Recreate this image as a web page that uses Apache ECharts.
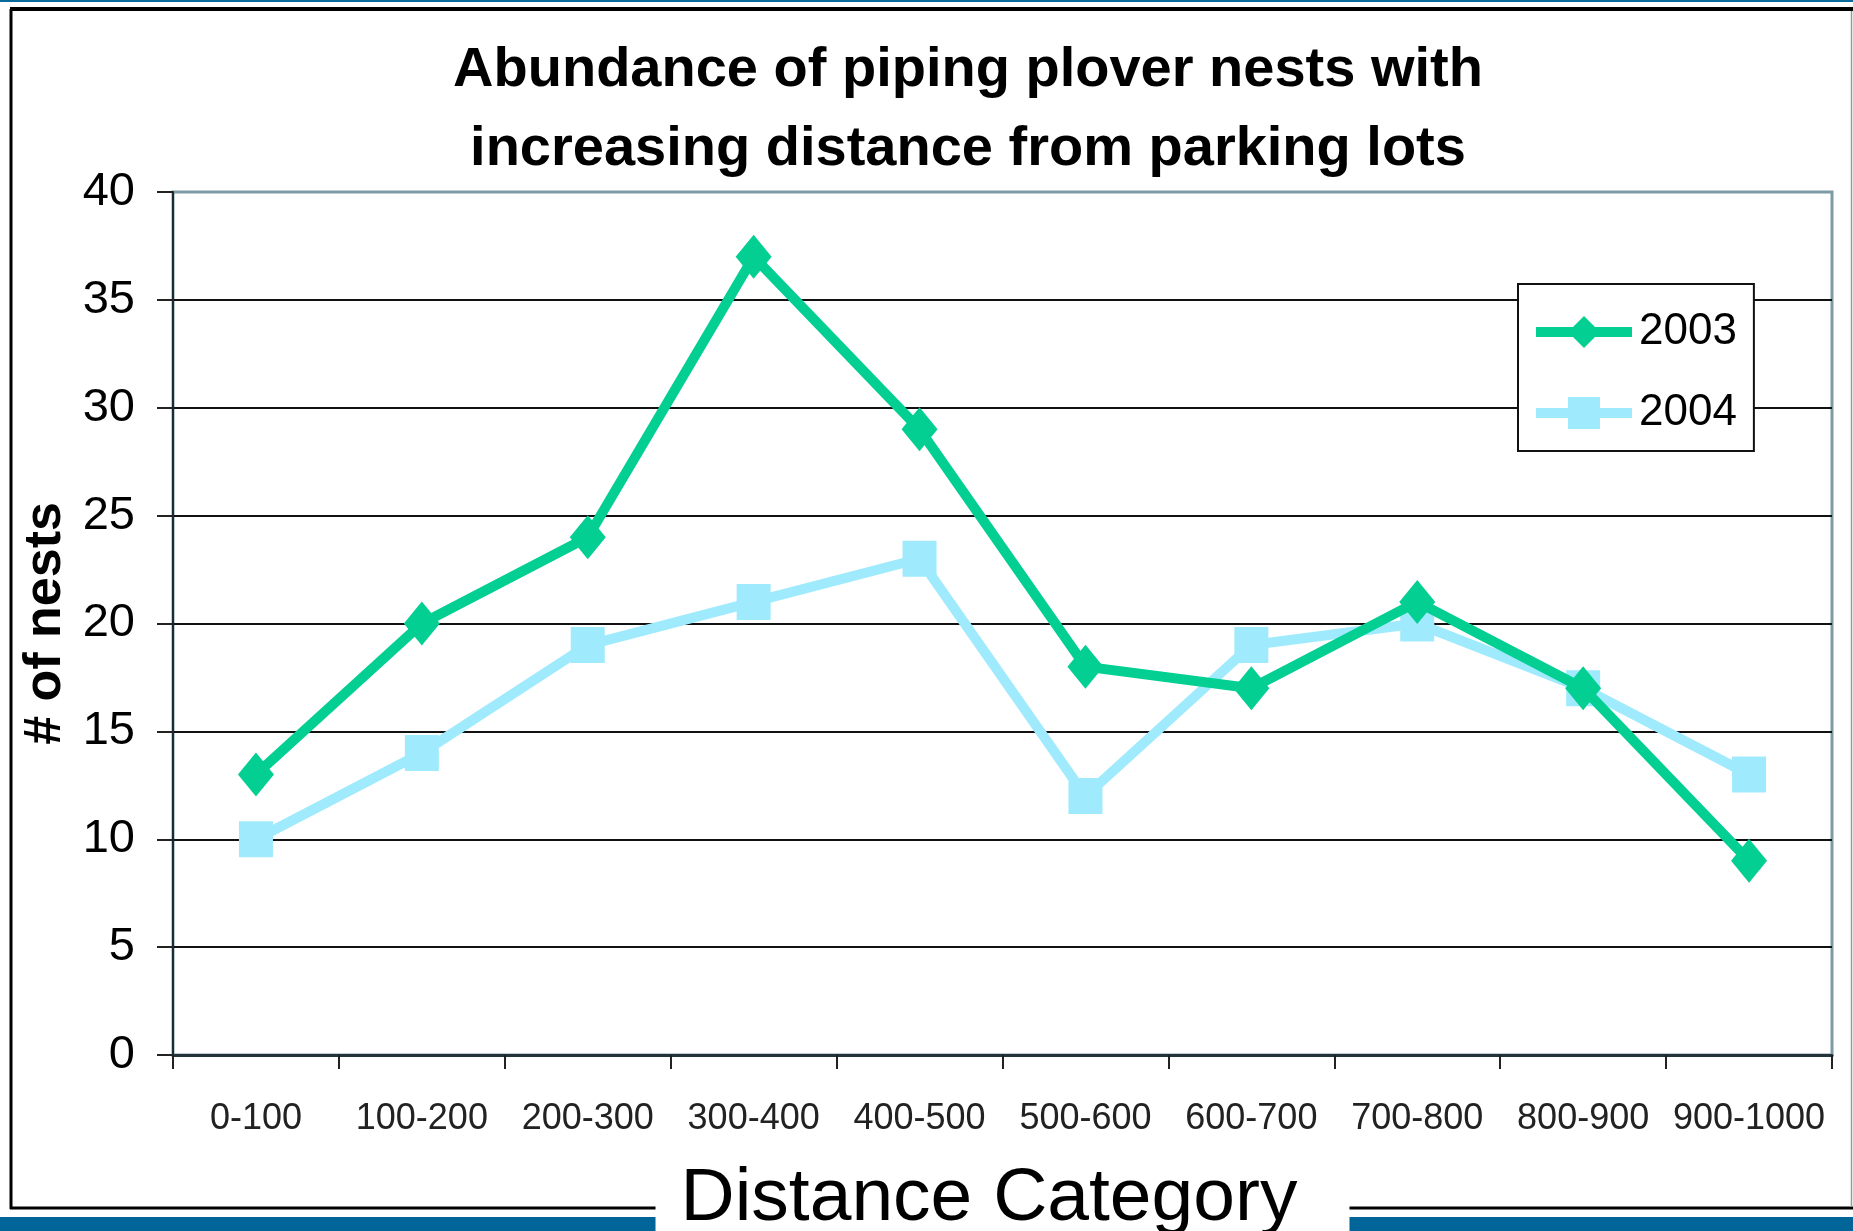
<!DOCTYPE html>
<html>
<head>
<meta charset="utf-8">
<title>Piping plover nests by distance from parking lots</title>
<script src="https://cdn.jsdelivr.net/npm/echarts@6/dist/echarts.min.js"></script>
<style>
  html, body { margin: 0; padding: 0; background: #fff; }
  #chart { width: 1853px; height: 1231px; }
</style>
</head>
<body>
<div id="chart"></div>
<script>
// Distance bands (m) from the parking lots
const categories = ['0-100', '100-200', '200-300', '300-400', '400-500',
                    '500-600', '600-700', '700-800', '800-900', '900-1000'];
// Number of nests per band, by season
const nests2003 = [13, 20, 24, 37, 29, 18, 17, 21, 17, 9];
const nests2004 = [10, 14, 19, 21, 23, 12, 19, 20, 17, 13];
// Value axis ticks
const yMin = 0, yMax = 40, yStep = 5;

const FONT = "'Liberation Sans', Arial, Helvetica, sans-serif";
const GREEN = '#03CF92';
const CYAN = '#9FEBFD';

const chart = echarts.init(document.getElementById('chart'), null, { renderer: 'canvas' });

const option = {
  backgroundColor: '#ffffff',
  animation: false,
  title: {
    text: 'Abundance of piping plover nests with\nincreasing distance from parking lots',
    left: 968,
    top: 31,
    textAlign: 'center',
    padding: 0,
    textStyle: {
      fontFamily: FONT,
      fontSize: 56,
      fontWeight: 'bold',
      color: '#000',
      lineHeight: 79
    }
  },
  legend: {
    orient: 'vertical',
    left: 1518,
    top: 284,
    padding: [26, 17, 16, 13],
    itemGap: 37,
    itemWidth: 96,
    itemHeight: 40,
    borderColor: '#111',
    borderWidth: 2,
    borderRadius: 0,
    backgroundColor: '#ffffff',
    z: 10,
    lineStyle: { width: 10 },
    textStyle: { fontFamily: FONT, fontSize: 44, color: '#000', padding: [0, 0, 0, 2] },
    data: ['2003', '2004']
  },
  grid: {
    left: 173,
    right: 21,
    top: 192,
    bottom: 176,
    outerBoundsMode: 'none',
    containLabel: false,
    show: true,
    backgroundColor: '#ffffff',
    borderColor: '#7E9BA5',
    borderWidth: 3
  },
  xAxis: {
    type: 'category',
    data: categories,
    boundaryGap: true,
    z: 5,
    name: 'Distance Category',
    nameLocation: 'middle',
    nameGap: 83,
    nameTextStyle: {
      fontFamily: FONT,
      fontSize: 75,
      color: '#000',
      backgroundColor: '#ffffff',
      padding: [20, 52, 40, 25]
    },
    axisLine: { show: true, lineStyle: { color: '#24343c', width: 3 } },
    axisTick: { show: true, length: 14, lineStyle: { color: '#222', width: 2 } },
    axisLabel: { interval: 0, fontFamily: FONT, fontSize: 36, color: '#222', margin: 46 },
    splitLine: { show: false }
  },
  yAxis: {
    type: 'value',
    min: yMin,
    max: yMax,
    interval: yStep,
    name: '# of nests',
    nameLocation: 'middle',
    nameGap: 93,
    nameRotate: 90,
    nameTextStyle: { fontFamily: FONT, fontSize: 52, fontWeight: 'bold', color: '#000' },
    axisLine: { show: true, lineStyle: { color: '#1d2b33', width: 2 } },
    axisTick: { show: true, length: 16, lineStyle: { color: '#222', width: 2 } },
    axisLabel: { fontFamily: FONT, fontSize: 47, color: '#000', margin: 38, padding: [12, 0, 0, 0] },
    splitLine: {
      show: true,
      showMinLine: false,
      showMaxLine: false,
      lineStyle: { color: '#111', width: 2 }
    }
  },
  series: [
    {
      name: '2003',
      type: 'line',
      data: nests2003,
      symbol: 'diamond',
      symbolSize: [36, 44],
      z: 3,
      lineStyle: { color: GREEN, width: 10 },
      itemStyle: { color: GREEN }
    },
    {
      name: '2004',
      type: 'line',
      data: nests2004,
      symbol: 'rect',
      symbolSize: [34, 36],
      z: 2,
      lineStyle: { color: CYAN, width: 10 },
      itemStyle: { color: CYAN }
    }
  ],
  graphic: [
    // thin blue rule along the top edge
    { type: 'rect', z: 0, shape: { x: 0, y: 0, width: 1853, height: 2 }, style: { fill: '#0A6A9C' } },
    // blue band along the bottom edge
    { type: 'rect', z: 0, shape: { x: 0, y: 1217, width: 1853, height: 14 }, style: { fill: '#02659A' } },
    // outer frame
    { type: 'line', z: 0, shape: { x1: 10, y1: 9, x2: 1853, y2: 9 }, style: { stroke: '#000', lineWidth: 4 } },
    { type: 'line', z: 0, shape: { x1: 11, y1: 9, x2: 11, y2: 1209 }, style: { stroke: '#000', lineWidth: 3 } },
    { type: 'line', z: 0, shape: { x1: 10, y1: 1208, x2: 1853, y2: 1208 }, style: { stroke: '#000', lineWidth: 3 } },
    { type: 'line', z: 0, shape: { x1: 1851.5, y1: 11, x2: 1851.5, y2: 1207 }, style: { stroke: '#999', lineWidth: 1.5 } }
  ]
};

chart.setOption(option);
</script>
</body>
</html>
